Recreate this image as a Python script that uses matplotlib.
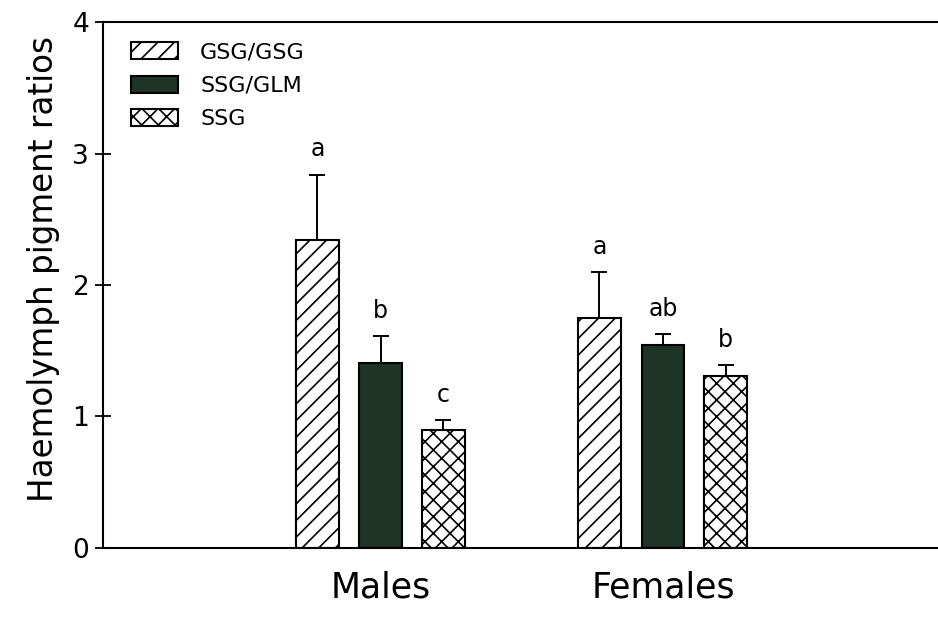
import numpy as np
import matplotlib
matplotlib.use('Agg')
import matplotlib.pyplot as plt

# data
groups = ['Males', 'Females']
series = ['GSG/GSG', 'SSG/GLM', 'SSG']
means = {
    'GSG/GSG': [2.34, 1.75],
    'SSG/GLM': [1.41, 1.54],
    'SSG': [0.90, 1.31],
}
errs = {
    'GSG/GSG': [0.50, 0.35],
    'SSG/GLM': [0.20, 0.09],
    'SSG': [0.07, 0.08],
}
letters = {
    'GSG/GSG': ['a', 'a'],
    'SSG/GLM': ['b', 'ab'],
    'SSG': ['c', 'b'],
}

dark = '#1f3327'
styles = {
    'GSG/GSG': dict(facecolor='white', hatch='//'),
    'SSG/GLM': dict(facecolor=dark, hatch=None),
    'SSG': dict(facecolor='white', hatch='xx'),
}

plt.rcParams['hatch.linewidth'] = 1.2
plt.rcParams['font.family'] = ['DejaVu Sans']

fig = plt.figure(figsize=(9.38, 6.22), dpi=100)
ax = fig.add_axes([0.1098, 0.119, 0.8902, 0.8456])

x = np.arange(1, len(groups) + 1)
width = 0.152
offsets = [-0.225, 0.0, 0.222]

for s, off in zip(series, offsets):
    pos = x + off
    ax.bar(pos, means[s], width, edgecolor='black', linewidth=1.5,
           label=s, **styles[s])
    ax.errorbar(pos, means[s], yerr=[np.zeros(len(groups)), errs[s]],
                fmt='none', ecolor='black', elinewidth=1.4, capsize=6,
                capthick=1.4)
    for p, m, e, t in zip(pos, means[s], errs[s], letters[s]):
        ax.text(p, m + e + 0.1, t, ha='center', va='bottom', fontsize=17)

ax.set_xlim(0.015, 2.975)
ax.set_ylim(0, 4)
ax.set_yticks([0, 1, 2, 3, 4])
ax.set_xticks(x)
ax.set_xticklabels(groups, fontsize=25)
ax.tick_params(axis='x', length=0, pad=16)
ax.tick_params(axis='y', direction='inout', length=12, width=1.3,
               labelsize=19, pad=4)
ax.set_ylabel('Haemolymph pigment ratios', fontsize=23.5)
ax.yaxis.set_label_coords(-0.052, 0.53)

ax.spines['right'].set_visible(False)
for sp in ['left', 'top', 'bottom']:
    ax.spines[sp].set_linewidth(1.5)

leg = ax.legend(loc='upper left', bbox_to_anchor=(0.01, 1.0), frameon=False,
                fontsize=16, handlelength=2.1, handleheight=0.8,
                labelspacing=0.6, handletextpad=1.0)

fig.savefig('out.png', dpi=100)
